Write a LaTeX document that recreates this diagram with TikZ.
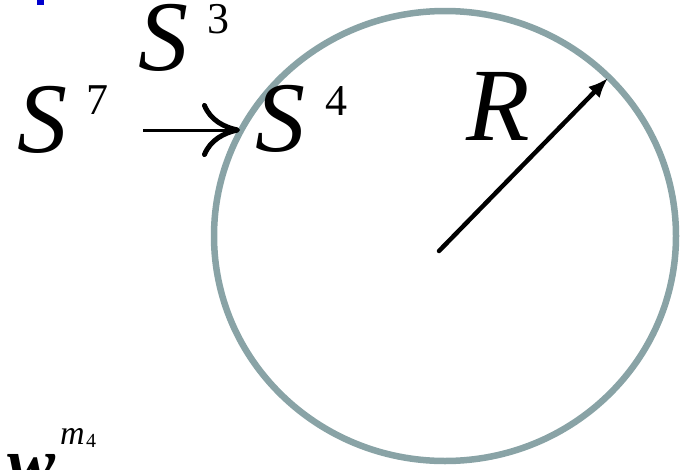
\documentclass[tikz,border=0pt]{standalone}
\usepackage{fontspec}
\setmainfont{Liberation Serif}
\usepackage{tikz}
\usetikzlibrary{arrows.meta,positioning,calc}
\definecolor{rimcolor}{RGB}{137,163,166}
\definecolor{markblue}{RGB}{0,0,205}
\tikzset{
  rimln/.style={line width=6.5pt, rimcolor},
  radiusln/.style={-{Latex[length=20pt,width=16pt]}, line width=4.5pt, line cap=round},
  mapln/.style={-{Computer Modern Rightarrow[length=38pt,width=54pt,line width=5pt]}, line width=3pt},
  bigsym/.style={inner sep=0pt, anchor=base west, font=\fontsize{100}{100}\selectfont\itshape},
  expo/.style={inner sep=0pt, anchor=base west, font=\fontsize{44}{44}\selectfont},
}

\begin{document}
\begin{tikzpicture}[x=1pt, y=-1pt]
    \useasboundingbox (0,0) rectangle (685,469);
    \clip (0,0) rectangle (685,469);
    % blue mark
    \fill[markblue] (37,0) rectangle (44,5);
    % circle and radius
    \coordinate (ctr) at (445,236);
    \draw[rimln] (ctr) ellipse [x radius=231, y radius=225];
    \coordinate (tail) at (439,251);
    \coordinate (rim) at (608,78);
    \draw[radiusln] (tail) -- (rim);
    \node[bigsym, font=\fontsize{104}{104}\selectfont\itshape] (R) at (466,140) {R};
    % spheres
    \node[bigsym] (S7) at (17,152) {S};
    \node[expo] (S7exp) at (86,114) {7};
    \node[bigsym] (S3) at (138,70) {S};
    \node[expo] (S3exp) at (207,33) {3};
    \node[bigsym] (S4) at (255,151) {S};
    \node[expo] (S4exp) at (325,115) {4};
    \coordinate (mapL) at (143,130);
    \coordinate (mapR) at (240,130);
    \draw[mapln] (mapL) -- (mapR);
    % bottom left
    \node[inner sep=0pt, anchor=base west, font=\fontsize{72}{72}\selectfont\bfseries\itshape] (w) at (7,487) {w};
    \node[inner sep=0pt, anchor=base west, font=\fontsize{34}{34}\selectfont\itshape] (m) at (60,444) {m};
    \node[inner sep=0pt, anchor=base west, font=\fontsize{20}{20}\selectfont] (m4) at (86,447) {4};
  \end{tikzpicture}
\end{document}
